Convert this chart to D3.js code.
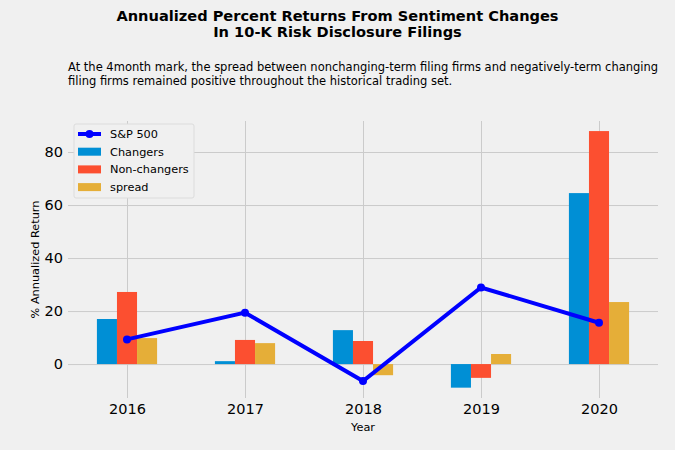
<!DOCTYPE html>
<meta charset="utf-8">
<style>
body { margin: 0; background: #f0f0f0; font-family: "DejaVu Sans", sans-serif; }
.grid line { stroke: #cbcbcb; stroke-width: 1; }
.grid path { display: none; }
.axis path, .axis line { display: none; }
.axis text { font-size: 14.5px; fill: #000; font-family: "DejaVu Sans", sans-serif; }
</style>
<body>
<script src="https://d3js.org/d3.v7.min.js"></script>
<script>

// data
var years = ["2016", "2017", "2018", "2019", "2020"];
var sp500 = [9.3, 19.4, -6.4, 28.9, 15.6];
var changers = [17.0, 1.1, 12.8, -8.9, 64.5];
var nonChangers = [27.2, 9.1, 8.7, -5.2, 87.9];
var spread = [9.8, 7.9, -4.2, 3.8, 23.4];
var yTicks = [0, 20, 40, 60, 80];

var W = 675, H = 450;
var margin = {top: 121, right: 17, bottom: 52, left: 68},
    width = W - margin.left - margin.right,
    height = H - margin.top - margin.bottom;

var colors = {
  "S&P 500": "blue",
  "Changers": "#008fd5",
  "Non-changers": "#fc4f30",
  "spread": "#e5ae38"
};

var svg = d3.select("body").append("svg")
    .attr("width", W)
    .attr("height", H);

// titles
svg.append("text")
    .attr("x", W / 2).attr("y", 21)
    .attr("text-anchor", "middle")
    .style("font-size", "14.6px").style("font-weight", "bold")
    .text("Annualized Percent Returns From Sentiment Changes");
svg.append("text")
    .attr("x", W / 2).attr("y", 37)
    .attr("text-anchor", "middle")
    .style("font-size", "14.6px").style("font-weight", "bold")
    .text("In 10-K Risk Disclosure Filings");
svg.append("text")
    .attr("x", 68).attr("y", 71)
    .style("font-size", "11.5px")
    .text("At the 4month mark, the spread between nonchanging-term filing firms and negatively-term changing");
svg.append("text")
    .attr("x", 68).attr("y", 85)
    .style("font-size", "11.5px")
    .text("filing firms remained positive throughout the historical trading set.");

var g = svg.append("g")
    .attr("transform", "translate(" + margin.left + "," + margin.top + ")");

// scales
var x = d3.scaleLinear().domain([-0.5, 4.5]).range([0, width]);
var y = d3.scaleLinear().domain([-12.8, 91.7]).range([height, 0]);
var bw = 0.17;

// grid
g.append("g").attr("class", "grid")
    .call(d3.axisLeft(y).tickValues(yTicks).tickSize(-width).tickFormat(""));
g.append("g").attr("class", "grid")
    .call(d3.axisBottom(x).tickValues(d3.range(years.length)).tickSize(height).tickFormat(""));

// bars
var series = [
  {name: "Changers", values: changers, off: -bw},
  {name: "Non-changers", values: nonChangers, off: 0},
  {name: "spread", values: spread, off: bw}
];
series.forEach(function(s) {
  g.selectAll(null)
      .data(s.values)
    .enter().append("rect")
      .attr("x", function(d, i) { return x(i + s.off - bw / 2); })
      .attr("width", x(bw) - x(0))
      .attr("y", function(d) { return y(Math.max(0, d)); })
      .attr("height", function(d) { return Math.abs(y(d) - y(0)); })
      .style("fill", colors[s.name]);
});

// S&P line
var line = d3.line()
    .x(function(d, i) { return x(i); })
    .y(function(d) { return y(d); });
g.append("path")
    .datum(sp500)
    .attr("d", line)
    .style("fill", "none")
    .style("stroke", colors["S&P 500"])
    .style("stroke-width", 4);
g.selectAll(".dot")
    .data(sp500)
  .enter().append("circle")
    .attr("cx", function(d, i) { return x(i); })
    .attr("cy", function(d) { return y(d); })
    .attr("r", 4)
    .style("fill", colors["S&P 500"]);

// axes
g.append("g").attr("class", "axis")
    .attr("transform", "translate(0," + height + ")")
    .call(d3.axisBottom(x).tickValues(d3.range(years.length))
      .tickFormat(function(d) { return years[d]; }).tickSize(0).tickPadding(6));
g.append("g").attr("class", "axis")
    .call(d3.axisLeft(y).tickValues(yTicks).tickSize(0).tickPadding(5));

svg.append("text")
    .attr("x", margin.left + width / 2).attr("y", 431)
    .attr("text-anchor", "middle")
    .style("font-size", "11.3px")
    .text("Year");
svg.append("text")
    .attr("transform", "translate(39," + (margin.top + height / 2) + ") rotate(-90)")
    .attr("text-anchor", "middle")
    .style("font-size", "11.3px")
    .text("% Annualized Return");

// legend
var lg = svg.append("g").attr("transform", "translate(74,124)");
lg.append("rect")
    .attr("width", 120).attr("height", 74)
    .attr("rx", 2)
    .style("fill", "#f0f0f0")
    .style("stroke", "#dcdcdc");
var names = Object.keys(colors);
var item = lg.selectAll(".legend")
    .data(names)
  .enter().append("g")
    .attr("transform", function(d, i) { return "translate(0," + (10 + i * 17.7) + ")"; });
item.filter(function(d) { return d !== "S&P 500"; })
    .append("rect")
    .attr("x", 4).attr("y", -4).attr("width", 23).attr("height", 8)
    .style("fill", function(d) { return colors[d]; });
item.filter(function(d) { return d === "S&P 500"; })
    .append("line")
    .attr("x1", 4).attr("x2", 27)
    .style("stroke", "blue").style("stroke-width", 4);
item.filter(function(d) { return d === "S&P 500"; })
    .append("circle")
    .attr("cx", 15.5).attr("r", 4).style("fill", "blue");
item.append("text")
    .attr("x", 36).attr("dy", "0.35em")
    .style("font-size", "11.3px")
    .text(function(d) { return d; });

</script>
</body>
